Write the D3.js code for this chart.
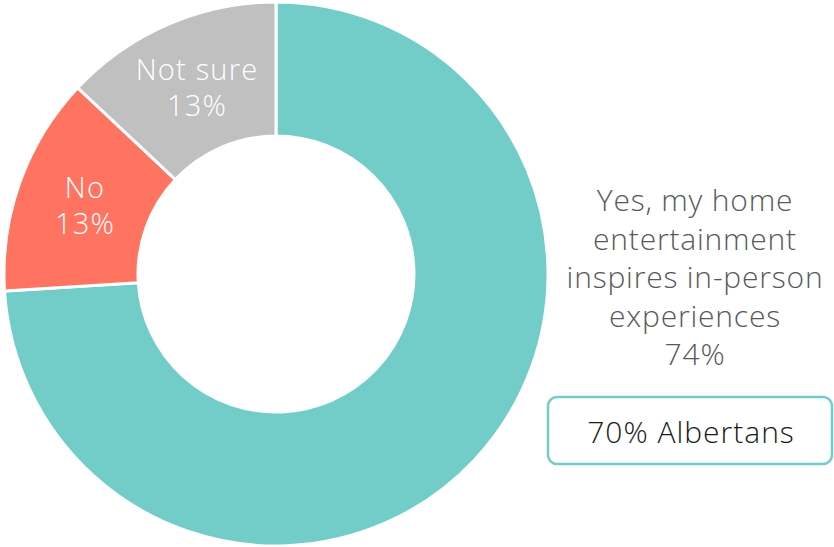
<!DOCTYPE html>
<html>
<head>
<meta charset="utf-8">
<script src="https://cdn.jsdelivr.net/npm/d3@7"></script>
<style>
  html, body { margin: 0; padding: 0; background: #fff; }
  svg { display: block; }
</style>
</head>
<body>
<div id="chart"></div>
<script>
const W = 834, H = 547;
const FONT = '"Open Sans", Lato, "Noto Sans", sans-serif';

// data
const categories = ['Yes', 'No', 'Not sure'];
const values = [74, 13, 13];
const colors = ['#72cdc9', '#ff7360', '#c0c0c0'];
const sliceLabels = [null, ['No', '13%'], ['Not sure', '13%']];
const yesLabel = ['Yes, my home', 'entertainment', 'inspires in-person', 'experiences', '74%'];
const compareLabel = '70% Albertans';

const cx = 276, cy = 274;
const outerR = 272, innerR = 138;

const svg = d3.select('#chart').append('svg')
  .attr('width', W).attr('height', H)
  .attr('viewBox', `0 0 ${W} ${H}`);

const pie = d3.pie().sort(null).value(d => d.value);
const arcs = pie(categories.map((c, i) => ({ cat: c, value: values[i], i })));

const arc = d3.arc().innerRadius(innerR).outerRadius(outerR);
const g = svg.append('g').attr('transform', `translate(${cx},${cy})`);

g.selectAll('path')
  .data(arcs)
  .join('path')
  .attr('d', arc)
  .attr('fill', d => colors[d.data.i])
  .attr('stroke', '#fff')
  .attr('stroke-width', 3);

// labels inside small slices
const labelPos = [null, [85 - cx, 198 - cy], [197 - cx, 80 - cy]];
arcs.forEach(d => {
  const lines = sliceLabels[d.data.i];
  if (!lines) return;
  const [lx, ly] = labelPos[d.data.i];
  g.append('text')
    .attr('x', lx).attr('y', ly)
    .attr('text-anchor', 'middle')
    .attr('font-family', FONT)
    .attr('font-weight', 300)
    .attr('font-size', 29)
    .attr('letter-spacing', 1.2)
    .attr('fill', '#fff')
    .selectAll('tspan')
    .data(lines)
    .join('tspan')
    .attr('x', lx)
    .attr('dy', (t, i) => i === 0 ? 0 : 36)
    .text(t => t);
});

// right label for Yes
const rx = 695;
svg.append('text')
  .attr('x', rx).attr('y', 211)
  .attr('text-anchor', 'middle')
  .attr('font-family', FONT)
  .attr('font-weight', 300)
  .attr('font-size', 30)
  .attr('letter-spacing', 0.8)
  .attr('fill', '#595959')
  .selectAll('tspan')
  .data(yesLabel)
  .join('tspan')
  .attr('x', rx)
  .attr('dy', (t, i) => i === 0 ? 0 : 38.5)
  .text(t => t);

// comparison box
svg.append('rect')
  .attr('x', 548).attr('y', 397)
  .attr('width', 284).attr('height', 67)
  .attr('rx', 9)
  .attr('fill', '#fff')
  .attr('stroke', '#72cdc9')
  .attr('stroke-width', 2.5);

svg.append('text')
  .attr('x', 691).attr('y', 443)
  .attr('text-anchor', 'middle')
  .attr('font-family', FONT)
  .attr('font-weight', 300)
  .attr('font-size', 30)
  .attr('letter-spacing', 1)
  .attr('fill', '#1a1a1a')
  .text(compareLabel);
</script>
</body>
</html>
